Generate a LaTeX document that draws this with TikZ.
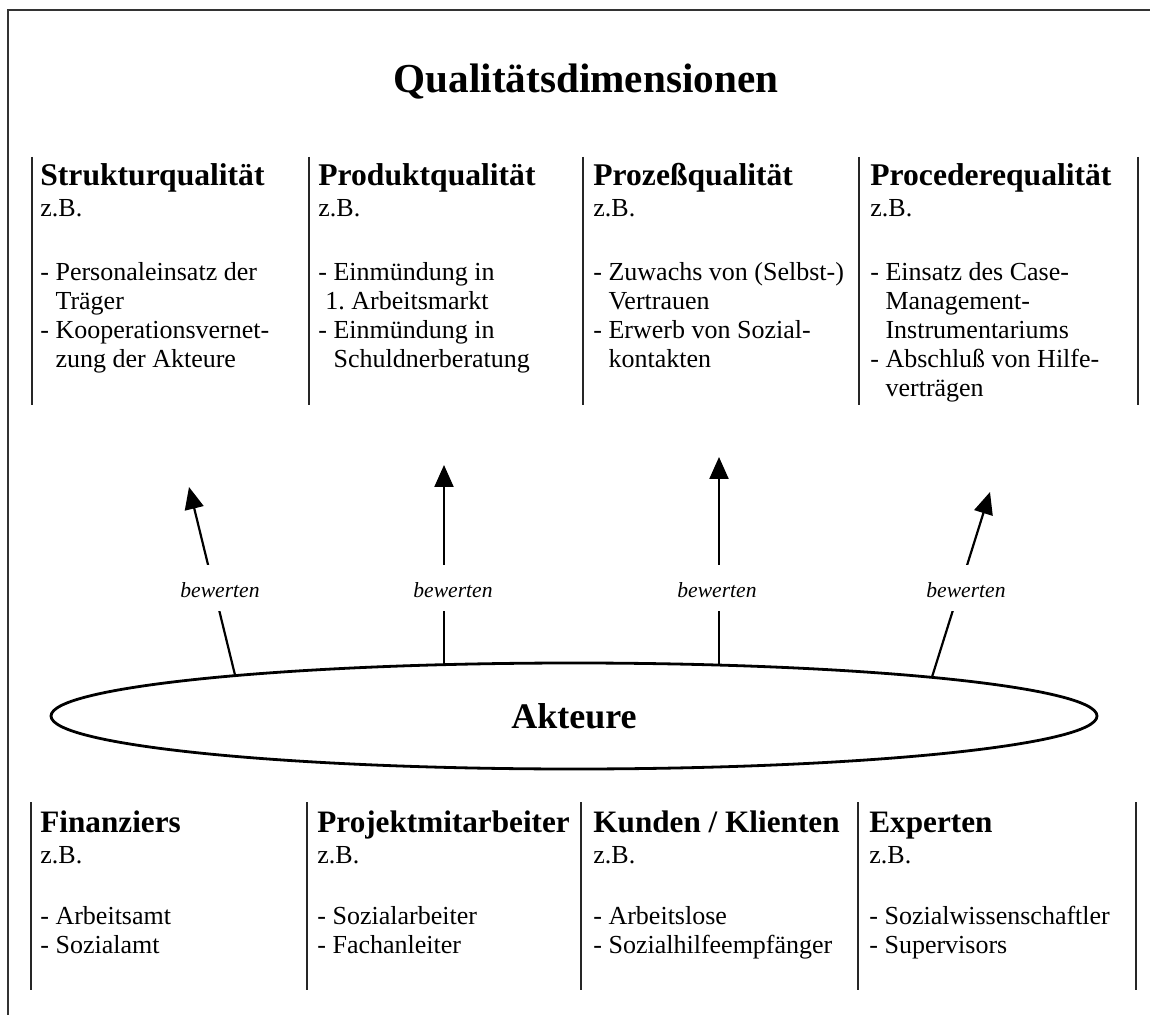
\documentclass[tikz,border=0pt]{standalone}
\usepackage{fontspec}
\setmainfont{Liberation Serif}
\usetikzlibrary{shapes.geometric,arrows.meta}
\frenchspacing
\newcommand\qBody{\fontsize{13pt}{14.5pt}\selectfont}
\newcommand\qHd[1]{\hbox{\fontsize{15.8pt}{16pt}\selectfont\bfseries #1}}
\newcommand\qHdB[1]{\hbox{\fontsize{15.6pt}{16pt}\selectfont\bfseries #1}}
\newcommand\qLine[2]{\baselineskip=#1\hbox{\qBody #2}}
\newcommand\qInd{\hphantom{- }}
\tikzset{
  sep/.style={line width=1pt, draw=black!85},
  frameline/.style={line width=1pt, draw=black!80},
  arr/.style={line width=1.1pt, -{Triangle[length=11pt,width=9.5pt]}},
  lbl/.style={fill=white, inner sep=0pt, text height=16pt, text depth=7pt, anchor=base,
              font=\fontsize{10.8pt}{12pt}\selectfont\itshape},
  colt/.style={anchor=base west, inner sep=0pt},
}
\begin{document}
\begin{tikzpicture}[x=0.5pt,y=-0.5pt]
\useasboundingbox (0,0) rectangle (1150,1015);
\fill[white] (0,0) rectangle (1150,1015);
% frame
\draw[frameline] (8,1015) -- (8,10) -- (1150,10);
% title
\node[anchor=base, inner sep=0pt, font=\fontsize{20.6pt}{22pt}\selectfont\bfseries] (title) at (586,93) {Qualitätsdimensionen};
% top separators
\foreach \x in {32,309,583,859,1138} \draw[sep] (\x,157) -- (\x,405);
% top columns
\node[colt] (c1) at (40,186) {\vtop{\lineskiplimit=-\maxdimen
  \qHd{Strukturqualität}
  \qLine{15.5pt}{z.B.}
  \qLine{32pt}{- Personaleinsatz der}
  \qLine{14.5pt}{\qInd Träger}
  \qLine{14.5pt}{- Kooperationsvernet-}
  \qLine{14.5pt}{\qInd zung der Akteure}}};
\node[colt] (c2) at (318,186) {\vtop{\lineskiplimit=-\maxdimen
  \qHd{Produktqualität}
  \qLine{15.5pt}{z.B.}
  \qLine{32pt}{- Einmündung in}
  \qLine{14.5pt}{\hspace*{3.5pt}1. Arbeitsmarkt}
  \qLine{14.5pt}{- Einmündung in}
  \qLine{14.5pt}{\qInd Schuldnerberatung}}};
\node[colt] (c3) at (593,186) {\vtop{\lineskiplimit=-\maxdimen
  \qHd{Prozeßqualität}
  \qLine{15.5pt}{z.B.}
  \qLine{32pt}{- Zuwachs von (Selbst-)}
  \qLine{14.5pt}{\qInd Vertrauen}
  \qLine{14.5pt}{- Erwerb von Sozial-}
  \qLine{14.5pt}{\qInd kontakten}}};
\node[colt] (c4) at (870,186) {\vtop{\lineskiplimit=-\maxdimen
  \qHd{Procederequalität}
  \qLine{15.5pt}{z.B.}
  \qLine{32pt}{- Einsatz des Case-}
  \qLine{14.5pt}{\qInd Management-}
  \qLine{14.5pt}{\qInd Instrumentariums}
  \qLine{14.5pt}{- Abschluß von Hilfe-}
  \qLine{14.5pt}{\qInd verträgen}}};
% ellipse
\node[ellipse, draw, line width=1.4pt, inner sep=0pt, minimum width=523pt, minimum height=53pt,
      font=\fontsize{18pt}{20pt}\selectfont\bfseries] (akt) at (574,716) {Akteure};
% arrows
\coordinate (s1) at (235,675); \coordinate (t1) at (189,487);
\coordinate (s2) at (444,665); \coordinate (t2) at (444,465);
\coordinate (s3) at (719,665); \coordinate (t3) at (719,457);
\coordinate (s4) at (932,677); \coordinate (t4) at (990,492);
\draw[arr] (s1) -- (t1);
\draw[arr] (s2) -- (t2);
\draw[arr] (s3) -- (t3);
\draw[arr] (s4) -- (t4);
\node[lbl] (b1) at (220,597) {bewerten};
\node[lbl] (b2) at (453,597) {bewerten};
\node[lbl] (b3) at (717,597) {bewerten};
\node[lbl] (b4) at (966,597) {bewerten};
% bottom separators
\foreach \x in {31,307,581,858,1136} \draw[sep] (\x,802) -- (\x,990);
% bottom columns
\node[colt] (d1) at (40,832) {\vtop{\lineskiplimit=-\maxdimen
  \qHdB{Finanziers}
  \qLine{15.5pt}{z.B.}
  \qLine{30.5pt}{- Arbeitsamt}
  \qLine{14.5pt}{- Sozialamt}}};
\node[colt] (d2) at (317,832) {\vtop{\lineskiplimit=-\maxdimen
  \qHdB{Projektmitarbeiter}
  \qLine{15.5pt}{z.B.}
  \qLine{30.5pt}{- Sozialarbeiter}
  \qLine{14.5pt}{- Fachanleiter}}};
\node[colt] (d3) at (593,832) {\vtop{\lineskiplimit=-\maxdimen
  \qHdB{Kunden / Klienten}
  \qLine{15.5pt}{z.B.}
  \qLine{30.5pt}{- Arbeitslose}
  \qLine{14.5pt}{- Sozialhilfeempfänger}}};
\node[colt] (d4) at (869,832) {\vtop{\lineskiplimit=-\maxdimen
  \qHdB{Experten}
  \qLine{15.5pt}{z.B.}
  \qLine{30.5pt}{- Sozialwissenschaftler}
  \qLine{14.5pt}{- Supervisors}}};
\end{tikzpicture}
\end{document}
